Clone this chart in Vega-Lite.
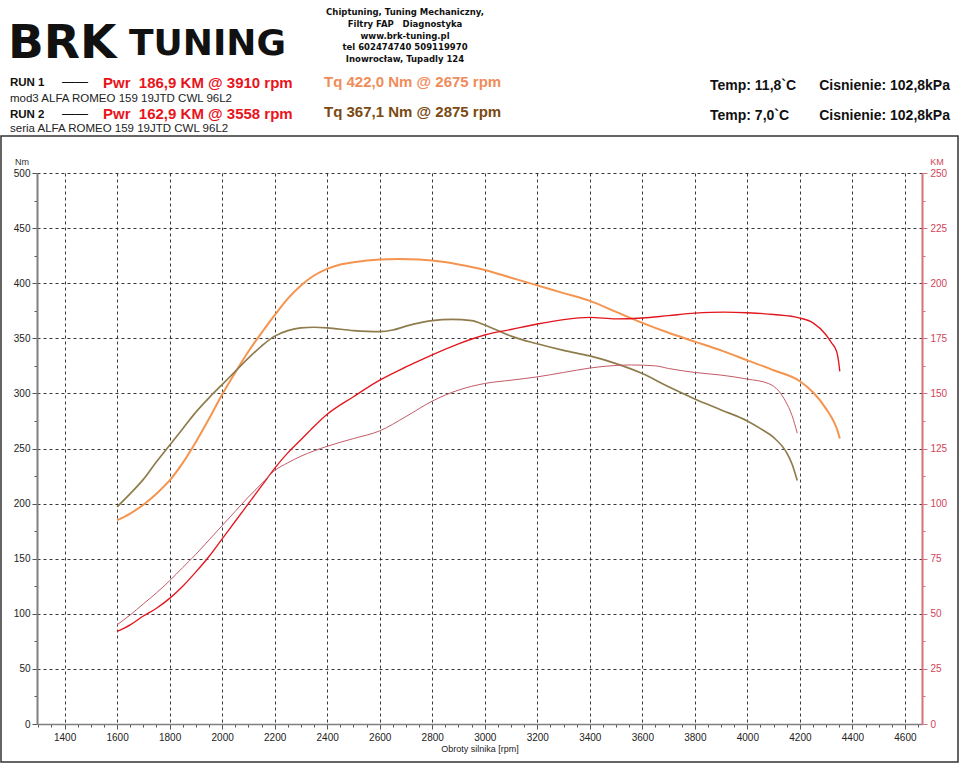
{
  "$schema": "https://vega.github.io/schema/vega-lite/v6.json",
  "width": 885,
  "height": 551,
  "autosize": {"type": "none"},
  "padding": {"left": 37, "top": 173, "right": 38, "bottom": 44},
  "background": "white",
  "config": {"view": {"stroke": null}, "font": "Liberation Sans"},
  "data": {"values": [{}]},
  "datasets": {
    "torque": [
      {"rpm": 1600, "curve": "Tq RUN 1", "nm": 185}, {"rpm": 1650, "curve": "Tq RUN 1", "nm": 191}, {"rpm": 1700, "curve": "Tq RUN 1", "nm": 199}, {"rpm": 1750, "curve": "Tq RUN 1", "nm": 209}, {"rpm": 1800, "curve": "Tq RUN 1", "nm": 221}, {"rpm": 1850, "curve": "Tq RUN 1", "nm": 237}, {"rpm": 1900, "curve": "Tq RUN 1", "nm": 256}, {"rpm": 1950, "curve": "Tq RUN 1", "nm": 277}, {"rpm": 2000, "curve": "Tq RUN 1", "nm": 299}, {"rpm": 2050, "curve": "Tq RUN 1", "nm": 319}, {"rpm": 2100, "curve": "Tq RUN 1", "nm": 338}, {"rpm": 2150, "curve": "Tq RUN 1", "nm": 355}, {"rpm": 2200, "curve": "Tq RUN 1", "nm": 371}, {"rpm": 2250, "curve": "Tq RUN 1", "nm": 386}, {"rpm": 2300, "curve": "Tq RUN 1", "nm": 398}, {"rpm": 2350, "curve": "Tq RUN 1", "nm": 407}, {"rpm": 2400, "curve": "Tq RUN 1", "nm": 413}, {"rpm": 2450, "curve": "Tq RUN 1", "nm": 417}, {"rpm": 2500, "curve": "Tq RUN 1", "nm": 419}, {"rpm": 2600, "curve": "Tq RUN 1", "nm": 421.5}, {"rpm": 2675, "curve": "Tq RUN 1", "nm": 422.0}, {"rpm": 2750, "curve": "Tq RUN 1", "nm": 421.5}, {"rpm": 2800, "curve": "Tq RUN 1", "nm": 420.5}, {"rpm": 2900, "curve": "Tq RUN 1", "nm": 417}, {"rpm": 3000, "curve": "Tq RUN 1", "nm": 412}, {"rpm": 3100, "curve": "Tq RUN 1", "nm": 405}, {"rpm": 3200, "curve": "Tq RUN 1", "nm": 398}, {"rpm": 3300, "curve": "Tq RUN 1", "nm": 391}, {"rpm": 3400, "curve": "Tq RUN 1", "nm": 384}, {"rpm": 3500, "curve": "Tq RUN 1", "nm": 374}, {"rpm": 3600, "curve": "Tq RUN 1", "nm": 364}, {"rpm": 3700, "curve": "Tq RUN 1", "nm": 355}, {"rpm": 3800, "curve": "Tq RUN 1", "nm": 347}, {"rpm": 3900, "curve": "Tq RUN 1", "nm": 339}, {"rpm": 4000, "curve": "Tq RUN 1", "nm": 330}, {"rpm": 4100, "curve": "Tq RUN 1", "nm": 321}, {"rpm": 4200, "curve": "Tq RUN 1", "nm": 311}, {"rpm": 4250, "curve": "Tq RUN 1", "nm": 301}, {"rpm": 4300, "curve": "Tq RUN 1", "nm": 286}, {"rpm": 4330, "curve": "Tq RUN 1", "nm": 274}, {"rpm": 4345, "curve": "Tq RUN 1", "nm": 265}, {"rpm": 4352, "curve": "Tq RUN 1", "nm": 259},
      {"rpm": 1600, "curve": "Tq RUN 2", "nm": 197}, {"rpm": 1650, "curve": "Tq RUN 2", "nm": 209}, {"rpm": 1700, "curve": "Tq RUN 2", "nm": 222}, {"rpm": 1750, "curve": "Tq RUN 2", "nm": 238}, {"rpm": 1800, "curve": "Tq RUN 2", "nm": 253}, {"rpm": 1850, "curve": "Tq RUN 2", "nm": 268}, {"rpm": 1900, "curve": "Tq RUN 2", "nm": 283}, {"rpm": 1950, "curve": "Tq RUN 2", "nm": 296}, {"rpm": 2000, "curve": "Tq RUN 2", "nm": 308}, {"rpm": 2050, "curve": "Tq RUN 2", "nm": 320}, {"rpm": 2100, "curve": "Tq RUN 2", "nm": 332}, {"rpm": 2150, "curve": "Tq RUN 2", "nm": 343}, {"rpm": 2200, "curve": "Tq RUN 2", "nm": 352}, {"rpm": 2250, "curve": "Tq RUN 2", "nm": 357}, {"rpm": 2300, "curve": "Tq RUN 2", "nm": 359.5}, {"rpm": 2350, "curve": "Tq RUN 2", "nm": 360}, {"rpm": 2400, "curve": "Tq RUN 2", "nm": 359.5}, {"rpm": 2500, "curve": "Tq RUN 2", "nm": 357}, {"rpm": 2600, "curve": "Tq RUN 2", "nm": 356}, {"rpm": 2650, "curve": "Tq RUN 2", "nm": 357.5}, {"rpm": 2700, "curve": "Tq RUN 2", "nm": 361}, {"rpm": 2800, "curve": "Tq RUN 2", "nm": 366}, {"rpm": 2875, "curve": "Tq RUN 2", "nm": 367.1}, {"rpm": 2950, "curve": "Tq RUN 2", "nm": 366}, {"rpm": 3000, "curve": "Tq RUN 2", "nm": 362}, {"rpm": 3050, "curve": "Tq RUN 2", "nm": 357}, {"rpm": 3100, "curve": "Tq RUN 2", "nm": 352}, {"rpm": 3200, "curve": "Tq RUN 2", "nm": 345}, {"rpm": 3300, "curve": "Tq RUN 2", "nm": 339}, {"rpm": 3400, "curve": "Tq RUN 2", "nm": 334}, {"rpm": 3500, "curve": "Tq RUN 2", "nm": 327}, {"rpm": 3600, "curve": "Tq RUN 2", "nm": 318}, {"rpm": 3700, "curve": "Tq RUN 2", "nm": 306}, {"rpm": 3800, "curve": "Tq RUN 2", "nm": 295}, {"rpm": 3900, "curve": "Tq RUN 2", "nm": 285}, {"rpm": 4000, "curve": "Tq RUN 2", "nm": 275}, {"rpm": 4050, "curve": "Tq RUN 2", "nm": 268}, {"rpm": 4100, "curve": "Tq RUN 2", "nm": 260}, {"rpm": 4150, "curve": "Tq RUN 2", "nm": 246}, {"rpm": 4170, "curve": "Tq RUN 2", "nm": 236}, {"rpm": 4190, "curve": "Tq RUN 2", "nm": 221}
    ],
    "power": [
      {"rpm": 1600, "curve": "Pwr RUN 1", "km": 42}, {"rpm": 1650, "curve": "Pwr RUN 1", "km": 45}, {"rpm": 1700, "curve": "Pwr RUN 1", "km": 49}, {"rpm": 1750, "curve": "Pwr RUN 1", "km": 52.5}, {"rpm": 1800, "curve": "Pwr RUN 1", "km": 57}, {"rpm": 1850, "curve": "Pwr RUN 1", "km": 62.5}, {"rpm": 1900, "curve": "Pwr RUN 1", "km": 69}, {"rpm": 1950, "curve": "Pwr RUN 1", "km": 76}, {"rpm": 2000, "curve": "Pwr RUN 1", "km": 84}, {"rpm": 2050, "curve": "Pwr RUN 1", "km": 92}, {"rpm": 2100, "curve": "Pwr RUN 1", "km": 100}, {"rpm": 2150, "curve": "Pwr RUN 1", "km": 108}, {"rpm": 2200, "curve": "Pwr RUN 1", "km": 116}, {"rpm": 2250, "curve": "Pwr RUN 1", "km": 123}, {"rpm": 2300, "curve": "Pwr RUN 1", "km": 129}, {"rpm": 2350, "curve": "Pwr RUN 1", "km": 135}, {"rpm": 2400, "curve": "Pwr RUN 1", "km": 140.5}, {"rpm": 2500, "curve": "Pwr RUN 1", "km": 148.5}, {"rpm": 2600, "curve": "Pwr RUN 1", "km": 156}, {"rpm": 2700, "curve": "Pwr RUN 1", "km": 162}, {"rpm": 2800, "curve": "Pwr RUN 1", "km": 167.5}, {"rpm": 2900, "curve": "Pwr RUN 1", "km": 172.5}, {"rpm": 3000, "curve": "Pwr RUN 1", "km": 176.5}, {"rpm": 3100, "curve": "Pwr RUN 1", "km": 179}, {"rpm": 3200, "curve": "Pwr RUN 1", "km": 181.5}, {"rpm": 3300, "curve": "Pwr RUN 1", "km": 183.5}, {"rpm": 3400, "curve": "Pwr RUN 1", "km": 184.5}, {"rpm": 3500, "curve": "Pwr RUN 1", "km": 183.8}, {"rpm": 3600, "curve": "Pwr RUN 1", "km": 184.2}, {"rpm": 3700, "curve": "Pwr RUN 1", "km": 185.3}, {"rpm": 3800, "curve": "Pwr RUN 1", "km": 186.4}, {"rpm": 3910, "curve": "Pwr RUN 1", "km": 186.9}, {"rpm": 4000, "curve": "Pwr RUN 1", "km": 186.6}, {"rpm": 4100, "curve": "Pwr RUN 1", "km": 185.8}, {"rpm": 4200, "curve": "Pwr RUN 1", "km": 184.2}, {"rpm": 4250, "curve": "Pwr RUN 1", "km": 182}, {"rpm": 4300, "curve": "Pwr RUN 1", "km": 176.5}, {"rpm": 4320, "curve": "Pwr RUN 1", "km": 173}, {"rpm": 4340, "curve": "Pwr RUN 1", "km": 169}, {"rpm": 4348, "curve": "Pwr RUN 1", "km": 164}, {"rpm": 4352, "curve": "Pwr RUN 1", "km": 160},
      {"rpm": 1600, "curve": "Pwr RUN 2", "km": 45}, {"rpm": 1650, "curve": "Pwr RUN 2", "km": 49.5}, {"rpm": 1700, "curve": "Pwr RUN 2", "km": 54.5}, {"rpm": 1750, "curve": "Pwr RUN 2", "km": 59.5}, {"rpm": 1800, "curve": "Pwr RUN 2", "km": 65}, {"rpm": 1850, "curve": "Pwr RUN 2", "km": 71}, {"rpm": 1900, "curve": "Pwr RUN 2", "km": 77}, {"rpm": 1950, "curve": "Pwr RUN 2", "km": 83.5}, {"rpm": 2000, "curve": "Pwr RUN 2", "km": 90}, {"rpm": 2050, "curve": "Pwr RUN 2", "km": 96.5}, {"rpm": 2100, "curve": "Pwr RUN 2", "km": 103}, {"rpm": 2150, "curve": "Pwr RUN 2", "km": 109}, {"rpm": 2200, "curve": "Pwr RUN 2", "km": 115}, {"rpm": 2250, "curve": "Pwr RUN 2", "km": 118.5}, {"rpm": 2300, "curve": "Pwr RUN 2", "km": 121.5}, {"rpm": 2400, "curve": "Pwr RUN 2", "km": 126}, {"rpm": 2500, "curve": "Pwr RUN 2", "km": 129.5}, {"rpm": 2600, "curve": "Pwr RUN 2", "km": 133}, {"rpm": 2700, "curve": "Pwr RUN 2", "km": 139.5}, {"rpm": 2800, "curve": "Pwr RUN 2", "km": 146.5}, {"rpm": 2900, "curve": "Pwr RUN 2", "km": 151.5}, {"rpm": 3000, "curve": "Pwr RUN 2", "km": 154.5}, {"rpm": 3100, "curve": "Pwr RUN 2", "km": 156}, {"rpm": 3200, "curve": "Pwr RUN 2", "km": 157.5}, {"rpm": 3300, "curve": "Pwr RUN 2", "km": 159.5}, {"rpm": 3400, "curve": "Pwr RUN 2", "km": 161.5}, {"rpm": 3500, "curve": "Pwr RUN 2", "km": 162.7}, {"rpm": 3558, "curve": "Pwr RUN 2", "km": 162.9}, {"rpm": 3650, "curve": "Pwr RUN 2", "km": 162.5}, {"rpm": 3700, "curve": "Pwr RUN 2", "km": 161.3}, {"rpm": 3800, "curve": "Pwr RUN 2", "km": 159.5}, {"rpm": 3900, "curve": "Pwr RUN 2", "km": 158.3}, {"rpm": 4000, "curve": "Pwr RUN 2", "km": 156.5}, {"rpm": 4080, "curve": "Pwr RUN 2", "km": 154.5}, {"rpm": 4120, "curve": "Pwr RUN 2", "km": 151}, {"rpm": 4145, "curve": "Pwr RUN 2", "km": 146.5}, {"rpm": 4170, "curve": "Pwr RUN 2", "km": 140}, {"rpm": 4190, "curve": "Pwr RUN 2", "km": 132}
    ]
  },
  "layer": [
    {
      "data": {"name": "torque"},
      "mark": {"type": "line", "interpolate": "monotone"},
      "encoding": {
        "x": {
          "field": "rpm", "type": "quantitative",
          "scale": {"domain": [1295, 4665], "nice": false, "zero": false},
          "axis": {
            "values": [1300,1350,1400,1450,1500,1550,1600,1650,1700,1750,1800,1850,1900,1950,2000,2050,2100,2150,2200,2250,2300,2350,2400,2450,2500,2550,2600,2650,2700,2750,2800,2850,2900,2950,3000,3050,3100,3150,3200,3250,3300,3350,3400,3450,3500,3550,3600,3650,3700,3750,3800,3850,3900,3950,4000,4050,4100,4150,4200,4250,4300,4350,4400,4450,4500,4550,4600,4650],
            "format": "d",
            "labelExpr": "datum.value % 200 === 0 ? datum.label : ''",
            "labelOverlap": false,
            "labelFontSize": 10,
            "labelColor": "#222",
            "labelPadding": 3,
            "grid": true,
            "gridColor": "#222",
            "gridDash": [3, 3],
            "gridWidth": 1,
            "gridOpacity": {"condition": {"test": "datum.value % 200 === 0", "value": 0.9}, "value": 0},
            "tickSize": {"condition": {"test": "datum.value % 200 === 0", "value": 5}, "value": 3},
            "tickColor": "#555",
            "domainColor": "#808080",
            "domainWidth": 1.5,
            "title": "Obroty silnika [rpm]",
            "titleFontSize": 9,
            "titleFontWeight": "normal",
            "titleColor": "#222",
            "titlePadding": 2
          }
        },
        "y": {
          "field": "nm", "type": "quantitative",
          "scale": {"domain": [0, 500], "nice": false},
          "axis": {
            "orient": "left",
            "values": [0,25,50,75,100,125,150,175,200,225,250,275,300,325,350,375,400,425,450,475,500],
            "labelExpr": "datum.value % 50 === 0 ? datum.label : ''",
            "labelOverlap": false,
            "labelFontSize": 10,
            "labelColor": "#222",
            "labelPadding": 2,
            "grid": true,
            "gridColor": "#222",
            "gridDash": [3, 3],
            "gridOpacity": {"condition": {"test": "datum.value % 50 === 0 && datum.value > 0", "value": 0.9}, "value": 0},
            "tickSize": {"condition": {"test": "datum.value % 50 === 0", "value": 5}, "value": 3},
            "tickColor": "#555",
            "domainColor": "#808080",
            "domainWidth": 2,
            "title": null
          }
        },
        "color": {
          "field": "curve", "type": "nominal",
          "scale": {"domain": ["Tq RUN 1", "Tq RUN 2", "Pwr RUN 1", "Pwr RUN 2"], "range": ["#F5944E", "#8F7C4C", "#E3161E", "#C45A68"]},
          "legend": null
        },
        "strokeWidth": {
          "field": "curve", "type": "nominal",
          "scale": {"domain": ["Tq RUN 1", "Tq RUN 2", "Pwr RUN 1", "Pwr RUN 2"], "range": [2, 1, 2, 1]},
          "legend": null
        }
      }
    },
    {
      "data": {"name": "power"},
      "mark": {"type": "line", "interpolate": "monotone"},
      "encoding": {
        "x": {"field": "rpm", "type": "quantitative", "axis": null},
        "y": {
          "field": "km", "type": "quantitative",
          "scale": {"domain": [0, 250], "nice": false},
          "axis": {
            "orient": "right",
            "values": [0,12.5,25,37.5,50,62.5,75,87.5,100,112.5,125,137.5,150,162.5,175,187.5,200,212.5,225,237.5,250],
            "labelExpr": "datum.value % 25 === 0 ? datum.label : ''",
            "labelOverlap": false,
            "labelFontSize": 10,
            "labelColor": "#D04458",
            "labelPadding": 3,
            "grid": false,
            "tickSize": {"condition": {"test": "datum.value % 25 === 0", "value": 5}, "value": 3},
            "tickColor": "#D8707E",
            "domainColor": "#D8707E",
            "domainWidth": 2,
            "title": null
          }
        },
        "color": {"field": "curve", "type": "nominal", "legend": null},
        "strokeWidth": {"field": "curve", "type": "nominal", "legend": null}
      }
    },
    {"mark": {"type": "rect", "x": -36, "y": -37, "x2": 921, "y2": 589, "fill": null, "stroke": "#333", "strokeWidth": 1.5}},
    {"mark": {"type": "text", "x": -15, "y": -8, "text": "Nm", "fontSize": 9, "color": "#333", "align": "center", "baseline": "alphabetic"}},
    {"mark": {"type": "text", "x": 900, "y": -8, "text": "KM", "fontSize": 9, "color": "#D04458", "align": "center", "baseline": "alphabetic"}},
    {"mark": {"type": "text", "x": -29, "y": -115, "text": "BRK", "font": "DejaVu Sans", "fontSize": 47, "fontWeight": "bold", "color": "#111", "align": "left", "baseline": "alphabetic"}},
    {"mark": {"type": "text", "x": 92, "y": -118, "text": "TUNING", "font": "DejaVu Sans", "fontSize": 36, "fontWeight": "bold", "color": "#111", "align": "left", "baseline": "alphabetic"}},
    {"mark": {"type": "text", "x": 368, "y": -158, "text": ["Chiptuning, Tuning Mechaniczny,", "Filtry FAP\u00a0\u00a0\u00a0Diagnostyka", "www.brk-tuning.pl", "tel 602474740 509119970", "Inowrocław, Tupadly 124"], "lineHeight": 11.8, "font": "DejaVu Sans", "fontSize": 8.5, "fontWeight": "bold", "color": "#111", "align": "center", "baseline": "alphabetic"}},
    {"mark": {"type": "text", "x": -27, "y": -87, "text": "RUN 1", "fontSize": 11.5, "fontWeight": "bold", "color": "#111", "align": "left", "baseline": "alphabetic"}},
    {"mark": {"type": "text", "x": 25, "y": -87, "text": "——", "fontSize": 13, "color": "#111", "align": "left", "baseline": "alphabetic"}},
    {"mark": {"type": "text", "x": 66, "y": -85, "text": "Pwr\u00a0 186,9 KM @ 3910 rpm", "fontSize": 15, "fontWeight": "bold", "color": "#E8141C", "align": "left", "baseline": "alphabetic"}},
    {"mark": {"type": "text", "x": 287, "y": -86, "text": "Tq 422,0 Nm @ 2675 rpm", "fontSize": 15, "fontWeight": "bold", "color": "#F08C5A", "align": "left", "baseline": "alphabetic"}},
    {"mark": {"type": "text", "x": -27, "y": -71, "text": "mod3 ALFA ROMEO 159 19JTD CWL 96L2", "fontSize": 11.5, "color": "#222", "align": "left", "baseline": "alphabetic"}},
    {"mark": {"type": "text", "x": -27, "y": -55, "text": "RUN 2", "fontSize": 11.5, "fontWeight": "bold", "color": "#111", "align": "left", "baseline": "alphabetic"}},
    {"mark": {"type": "text", "x": 25, "y": -55, "text": "——", "fontSize": 13, "color": "#111", "align": "left", "baseline": "alphabetic"}},
    {"mark": {"type": "text", "x": 66, "y": -54, "text": "Pwr\u00a0 162,9 KM @ 3558 rpm", "fontSize": 15, "fontWeight": "bold", "color": "#E8141C", "align": "left", "baseline": "alphabetic"}},
    {"mark": {"type": "text", "x": 287, "y": -56, "text": "Tq 367,1 Nm @ 2875 rpm", "fontSize": 15, "fontWeight": "bold", "color": "#7A4A12", "align": "left", "baseline": "alphabetic"}},
    {"mark": {"type": "text", "x": -27, "y": -41, "text": "seria ALFA ROMEO 159 19JTD CWL 96L2", "fontSize": 11.5, "color": "#222", "align": "left", "baseline": "alphabetic"}},
    {"mark": {"type": "text", "x": 673, "y": -83, "text": "Temp: 11,8`C", "fontSize": 14, "fontWeight": "bold", "color": "#111", "align": "left", "baseline": "alphabetic"}},
    {"mark": {"type": "text", "x": 913, "y": -83, "text": "Cisnienie: 102,8kPa", "fontSize": 14, "fontWeight": "bold", "color": "#111", "align": "right", "baseline": "alphabetic"}},
    {"mark": {"type": "text", "x": 673, "y": -53, "text": "Temp: 7,0`C", "fontSize": 14, "fontWeight": "bold", "color": "#111", "align": "left", "baseline": "alphabetic"}},
    {"mark": {"type": "text", "x": 913, "y": -53, "text": "Cisnienie: 102,8kPa", "fontSize": 14, "fontWeight": "bold", "color": "#111", "align": "right", "baseline": "alphabetic"}}
  ],
  "resolve": {"scale": {"y": "independent"}, "axis": {"x": "independent"}}
}
